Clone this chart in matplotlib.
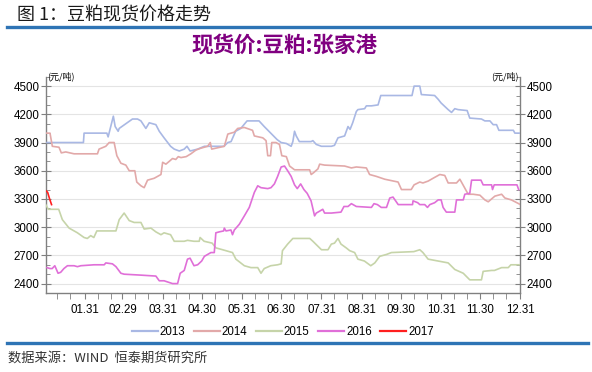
import matplotlib
matplotlib.use("Agg")
import matplotlib.pyplot as plt
from matplotlib.lines import Line2D

plt.rcParams['font.family'] = ['Noto Sans CJK SC', 'DejaVu Sans']

# 日期以当年1月1日起的天数表示 (2016为闰年, 横轴按366天)
days_2013 = [1, 29, 29.5, 47, 48, 50, 52, 53.4, 55.7, 56.5, 66.7, 70.6, 73.2, 77, 79.6, 84.7, 87.3, 91, 96,
             98.8, 102.7, 106.5, 108.6, 111, 116.8, 122, 137, 140, 142.5, 146, 150, 154.8, 164, 168, 173, 178,
             181, 185, 188.7, 190, 191.3, 192.6, 195, 204, 205.4, 208, 212, 219.6, 222, 224.7, 229.8, 232.4,
             234, 236, 238.8, 240, 245.2, 246.5, 250.4, 255.5, 257.6, 281.6, 283.2, 287.6, 288.8, 299, 301.7,
             304, 309.4, 312, 314.5, 317, 324, 326, 335, 337.6, 341.5, 344, 346.6, 348.4, 359.5, 360.7, 365]
price_2013 = [3900, 3900, 4000, 4000, 3960, 4070, 4180, 4070, 4020, 4050, 4150, 4150, 4130, 4050, 4110, 4090,
              4020, 3950, 3860, 3830, 3810, 3830, 3860, 3810, 3830, 3860, 3860, 3900, 3910, 4020, 4050, 4130,
              4130, 4070, 4000, 3930, 3900, 3890, 3860, 3910, 4020, 3970, 3910, 3910, 3920, 3880, 3860, 3860,
              3870, 3950, 3970, 4070, 4040, 4110, 4230, 4250, 4260, 4290, 4290, 4300, 4400, 4400, 4500, 4500,
              4410, 4400, 4360, 4320, 4250, 4220, 4260, 4250, 4240, 4160, 4150, 4130, 4130, 4090, 4090, 4030,
              4030, 4000, 4000]

days_2014 = [0, 3.3, 5.1, 10.2, 12, 15.4, 21.8, 39.8, 41, 46.2, 48.8, 52.6, 54.7, 57.8, 61.6, 64.2, 68.5, 70,
             73.2, 75.7, 78.3, 83.4, 86, 88.6, 89.9, 92.4, 95, 97.5, 100, 101.9, 104, 108, 111.6, 115.5, 119.3,
             124.5, 126.5, 127.6, 130.8, 137.3, 140, 145, 147.6, 152.7, 159, 160.4, 166.9, 169.4, 170.7, 172.8,
             173.8, 177, 179.7, 181.5, 185, 187.5, 191.3, 202.9, 204.1, 206, 209.3, 210.6, 214.4, 229.8, 235,
             238.8, 246.5, 249, 254.2, 260.6, 270.9, 273.5, 281, 283.2, 287.6, 290, 294, 297.8, 303, 306.8,
             309.4, 315.8, 318.4, 320, 324.8, 328.6, 333.8, 337.6, 340.2, 345.3, 350.5, 353, 358, 365]
price_2014 = [4000, 4000, 3860, 3850, 3790, 3800, 3780, 3780, 3830, 3860, 3900, 3900, 3760, 3680, 3660, 3600,
              3600, 3480, 3440, 3420, 3500, 3520, 3540, 3560, 3690, 3670, 3700, 3730, 3720, 3750, 3740, 3750,
              3780, 3820, 3840, 3860, 3900, 3830, 3840, 3860, 3990, 4010, 4050, 4060, 4030, 3970, 3950, 3920,
              3760, 3760, 3900, 3900, 3880, 3760, 3750, 3650, 3610, 3610, 3560, 3580, 3620, 3670, 3660, 3650,
              3630, 3640, 3630, 3560, 3540, 3510, 3480, 3400, 3400, 3450, 3480, 3470, 3490, 3520, 3560, 3550,
              3470, 3470, 3510, 3470, 3350, 3350, 3340, 3290, 3270, 3330, 3350, 3310, 3290, 3240]

days_2015 = [0, 2, 10, 12.8, 18, 24.4, 29.5, 32, 34.6, 37, 39.3, 54, 56.5, 60.3, 64.2, 68, 73.2, 75.7, 80.9,
             84.7, 88.6, 91, 96, 98.8, 106.5, 109, 114, 118, 118.7, 121.8, 128, 130.8, 136, 143.6, 146.2, 152.7,
             157.8, 163, 165.5, 168, 173, 178.3, 181, 182, 186, 190, 203, 205.4, 212, 217, 219.6, 222, 224.7,
             227, 231, 233.7, 237.5, 240, 245, 249.9, 253, 256.8, 262, 265.8, 283, 287.6, 290, 294, 301.7,
             309.4, 314.5, 321, 326, 335, 336.3, 342.8, 345, 350.5, 355.6, 357.6, 365]
price_2015 = [3240, 3190, 3190, 3080, 2990, 2940, 2890, 2880, 2910, 2890, 2960, 2960, 3080, 3150, 3070, 3050,
              3050, 2980, 2990, 2950, 2920, 2940, 2920, 2850, 2850, 2860, 2850, 2850, 2890, 2850, 2830, 2780,
              2760, 2730, 2660, 2590, 2570, 2570, 2510, 2560, 2590, 2600, 2610, 2750, 2820, 2880, 2880, 2850,
              2760, 2760, 2820, 2830, 2880, 2820, 2780, 2750, 2730, 2660, 2640, 2590, 2620, 2690, 2710, 2730,
              2740, 2760, 2730, 2660, 2640, 2620, 2550, 2510, 2440, 2440, 2530, 2540, 2540, 2570, 2570, 2600,
              2600]

days_2016 = [1, 3.3, 5, 7, 9.5, 11.5, 14, 16.7, 21.8, 24.4, 27, 37.2, 45, 46.2, 51.3, 54, 57.8, 60.3, 73.2,
             84.7, 87.3, 91, 97.5, 101.4, 103.4, 106.5, 109, 111, 114, 116.8, 119.9, 122, 127, 129.6, 130.8,
             133.4, 136.8, 137.3, 138.6, 142.4, 143.6, 145, 148.8, 152.7, 156.5, 160.4, 163, 165.5, 170.7,
             173.2, 175.8, 178.3, 181, 183.6, 186, 188.7, 191.3, 193.4, 196, 198.5, 201, 204, 206.7, 208,
             209.3, 213, 214.4, 219.6, 227, 229.3, 232.4, 235, 238.8, 250.4, 252.4, 255, 258, 262, 264.5, 267,
             271, 282, 282.4, 286, 287.6, 291.4, 293.5, 295.3, 299, 301.7, 304, 305.5, 308, 314.5, 315.8, 321,
             322.2, 326, 327.4, 334.6, 336.3, 342.8, 343.5, 344.8, 362.3, 363.6]
price_2016 = [2570, 2560, 2560, 2590, 2510, 2520, 2560, 2590, 2590, 2580, 2590, 2600, 2600, 2620, 2610, 2580,
              2510, 2500, 2490, 2480, 2430, 2430, 2400, 2400, 2510, 2540, 2660, 2670, 2590, 2600, 2640, 2690,
              2730, 2730, 2940, 2950, 2960, 2990, 2960, 2970, 2920, 2970, 3030, 3120, 3210, 3370, 3440, 3420,
              3410, 3420, 3460, 3540, 3640, 3650, 3600, 3540, 3450, 3410, 3460, 3400, 3360, 3280, 3120, 3150,
              3160, 3190, 3150, 3150, 3160, 3220, 3220, 3250, 3220, 3210, 3250, 3240, 3210, 3210, 3310, 3320,
              3240, 3240, 3280, 3260, 3240, 3240, 3210, 3240, 3260, 3290, 3290, 3210, 3160, 3160, 3290, 3290,
              3350, 3360, 3500, 3500, 3450, 3450, 3400, 3450, 3450, 3400]

days_2017 = [0, 1.5, 3, 4.5]
price_2017 = [3390, 3370, 3300, 3240]

years = ['2013', '2014', '2015', '2016', '2017']
colors = ['#a9b8e4', '#e2a9a9', '#c6d4a9', '#e06fd8', '#ff1f1f']

month_ends = [30, 59, 90, 120, 151, 181, 212, 243, 273, 304, 334, 365]
month_labels = ['01.31', '02.29', '03.31', '04.30', '05.31', '06.30',
                '07.31', '08.31', '09.30', '10.31', '11.30', '12.31']
y_ticks = [2400, 2700, 3000, 3300, 3600, 3900, 4200, 4500]

fig = plt.figure(figsize=(5.92, 3.72), dpi=100)
ax = fig.add_axes([0.0772, 1 - 293 / 372, 0.802, (293 - 76.7) / 372])

series = [(days_2013, price_2013), (days_2014, price_2014), (days_2015, price_2015),
          (days_2016, price_2016), (days_2017, price_2017)]
for (d, p), c, yr in zip(series, colors, years):
    ax.plot(d, p, color=c, lw=1.2, label=yr, zorder=3)

ax.set_xlim(0, 365)
ax.set_ylim(2300, 4600)
ax.set_yticks(y_ticks)
ax.set_yticks(range(2300, 4601, 100), minor=True)
ax.set_xticks(month_ends)
ax.set_xticklabels(month_labels)
minor_x = []
starts = [0] + [m + 1 for m in month_ends[:-1]]
for s in starts:
    minor_x += [s + 9, s + 19]
ax.set_xticks(minor_x, minor=True)

ax.grid(axis='y', which='major', color='#e4e4e4', lw=0.8, zorder=0)
for side in ['top']:
    ax.spines[side].set_visible(False)
for side in ['left', 'right', 'bottom']:
    ax.spines[side].set_color('#808080')
    ax.spines[side].set_linewidth(1.0)

tick_font = 'Liberation Sans'
ax.tick_params(axis='y', which='major', direction='inout', length=7, color='#808080',
               left=True, right=True, labelleft=True, labelright=True, labelsize=8.3, pad=1)
ax.tick_params(axis='y', which='minor', direction='in', length=3, color='#808080', left=True, right=True)
ax.tick_params(axis='x', which='both', direction='out', length=4, color='#808080', labelsize=8.3, pad=4)
for lab in ax.get_xticklabels() + ax.get_yticklabels():
    lab.set_family(tick_font)

ax.text(0.003, 1.0, '(元/吨)', transform=ax.transAxes, ha='left', va='center', fontsize=6.5)
ax.text(0.997, 1.0, '(元/吨)', transform=ax.transAxes, ha='right', va='center', fontsize=6.5)

handles = [Line2D([], [], color=c, lw=1.6) for c in colors]
leg = fig.legend(handles, years, loc='center', bbox_to_anchor=(0.478, 1 - 332 / 372), ncol=5,
                 frameon=False, handlelength=2.2, handletextpad=0.2, columnspacing=0.75,
                 prop={'family': tick_font, 'size': 8.3})

fig.text(0.029, 1 - 15 / 372, '图 1：豆粕现货价格走势', fontsize=13, ha='left', va='center', color='#1a1a1a')
fig.add_artist(Line2D([7 / 592, 1.0], [1 - 27 / 372] * 2, color='#2e74b5', lw=2.4))
fig.text(284 / 592, 1 - 45.5 / 372, '现货价:豆粕:张家港', fontsize=15.5, fontweight='bold',
         ha='center', va='center', color='#800080')
fig.add_artist(Line2D([7 / 592, 588 / 592], [1 - 343 / 372] * 2, color='#2e74b5', lw=2.4))
fig.text(8 / 592, 1 - 358 / 372, '数据来源：WIND  恒泰期货研究所', fontsize=9.5, ha='left', va='center',
         color='#333333')

fig.savefig('out.png', dpi=100)
